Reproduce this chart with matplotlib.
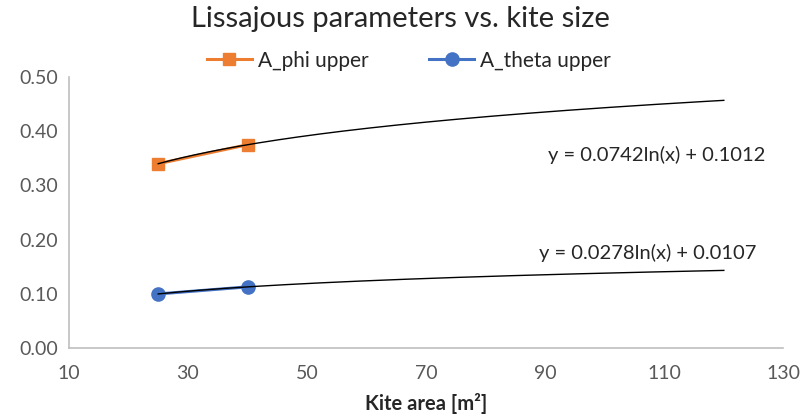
import numpy as np
import matplotlib.pyplot as plt

plt.rcParams['font.family'] = ['Lato', 'DejaVu Sans']

# kite area [m^2] and the Lissajous amplitudes
kite_area = [25, 40]
a_phi = [0.340, 0.375]
a_theta = [0.100, 0.113]
trend_end = 120  # trendlines run forward to this area

phi_label = "y = 0.0742ln(x) + 0.1012"
theta_label = "y = 0.0278ln(x) + 0.0107"

x_ticks = [10, 30, 50, 70, 90, 110, 130]
y_ticks = [0.0, 0.1, 0.2, 0.3, 0.4, 0.5]

fig = plt.figure(figsize=(8.01, 4.18), dpi=100)
ax = fig.add_axes([0.086, 0.167, 0.892, 0.649])

ax.plot(kite_area, a_phi, color='#ED7D31', lw=2.2, marker='s', ms=8.5, label='A_phi upper', zorder=2)
ax.plot(kite_area, a_theta, color='#4472C4', lw=2.2, marker='o', ms=9.5, label='A_theta upper', zorder=2)

# logarithmic trendlines, fitted the same way Excel does
xs = np.linspace(kite_area[0], trend_end, 200)
for vals in (a_phi, a_theta):
    slope, icept = np.polyfit(np.log(kite_area), vals, 1)
    ax.plot(xs, slope * np.log(xs) + icept, color='black', lw=1.0, zorder=3)

ax.text(127, 0.356, phi_label, ha='right', va='center', fontsize=14.5, color='#262626')
ax.text(125.5, 0.175, theta_label, ha='right', va='center', fontsize=14.5, color='#262626')

ax.set_xlim(10, 130)
ax.set_ylim(0, 0.5)
ax.set_xticks(x_ticks)
ax.set_yticks(y_ticks)
ax.set_yticklabels([f'{v:.2f}' for v in y_ticks])
ax.tick_params(length=0, labelsize=14, labelcolor='#595959', pad=8)
ax.tick_params(axis='x', pad=12)

for side in ('top', 'right'):
    ax.spines[side].set_visible(False)
for side in ('left', 'bottom'):
    ax.spines[side].set_color('#BFBFBF')
    ax.spines[side].set_linewidth(1.2)

ax.set_xlabel('Kite area [m²]', fontsize=14.5, fontweight='bold', color='#262626', labelpad=8)
fig.suptitle('Lissajous parameters vs. kite size', fontsize=21, color='#262626', y=0.985)
fig.legend(loc='center', bbox_to_anchor=(0.51, 0.855), ncol=2, frameon=False, fontsize=15,
           handlelength=2.2, columnspacing=2.9, handletextpad=0.25, labelcolor='#262626')

fig.savefig('out.png', dpi=100)
